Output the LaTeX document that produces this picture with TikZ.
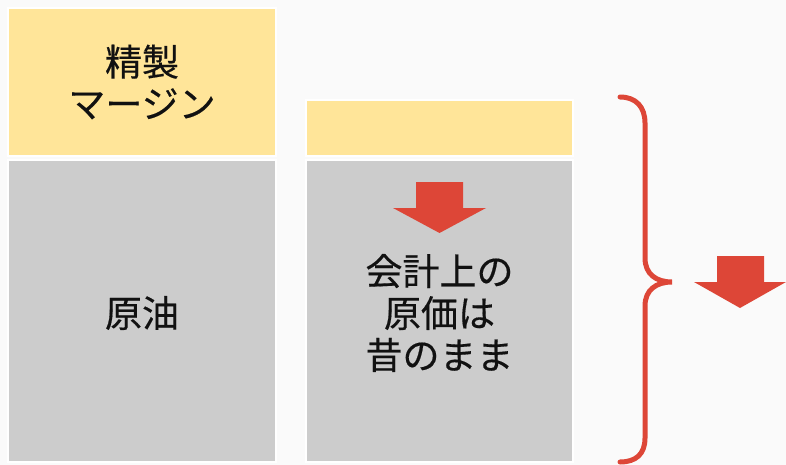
\documentclass[tikz,border=0pt]{standalone}
\usepackage{fontspec}
\setmainfont[FakeBold=0.4,AutoFakeBold=false]{Noto Sans CJK JP}
\definecolor{margincol}{HTML}{FFE599}
\definecolor{crudecol}{HTML}{CCCCCC}
\definecolor{arrowred}{HTML}{DD4637}
\definecolor{bgcol}{HTML}{FAFAFA}
\definecolor{textcol}{HTML}{111111}

\begin{document}
\begin{tikzpicture}[x=1pt, y=-1pt]
	\fill[bgcol] (0,0) rectangle (786,465);
	\useasboundingbox (0,0) rectangle (786,465);
	\begin{scope}[every node/.style={draw=white, line width=1.5pt, inner sep=0, align=center, text=textcol, font=\fontsize{37}{42}\selectfont}]
	\node[fill=margincol, minimum width=268, minimum height=148] (margin) at (142,82) {精製\\マージン};
	\node[fill=crudecol, minimum width=268, minimum height=302] (crude) at (142,311) {};
	\node[fill=margincol, minimum width=267, minimum height=56] (margin') at (439.5,128) {};
	\node[fill=crudecol, minimum width=267, minimum height=302] (crude') at (439.5,311) {};
	
	\node[draw=none] (oil) at (142,313) {原油};
	\node[draw=none] (cost) at (439.5,313) {会計上の\\原価は\\昔のまま};
	\end{scope}
	
	% arrows
	\fill[arrowred] (416,182) -- (463,182) -- (463,208) -- (486,208) -- (439.5,233) -- (393,208) -- (416,208) -- cycle;
	\fill[arrowred] (717,256) -- (764,256) -- (764,282) -- (786,282) -- (740,308) -- (694,282) -- (717,282) -- cycle;
	
	% brace
	\draw[arrowred, line width=5pt, line cap=round] (620,97) .. controls (636,97) and (645,107) .. (645,123) -- (645,258)
		.. controls (645,274) and (656,282) .. (672,282) .. controls (656,282) and (645,290) .. (645,306)
		-- (645,438) .. controls (645,454) and (636,462) .. (620,462);
\end{tikzpicture}
\end{document}
